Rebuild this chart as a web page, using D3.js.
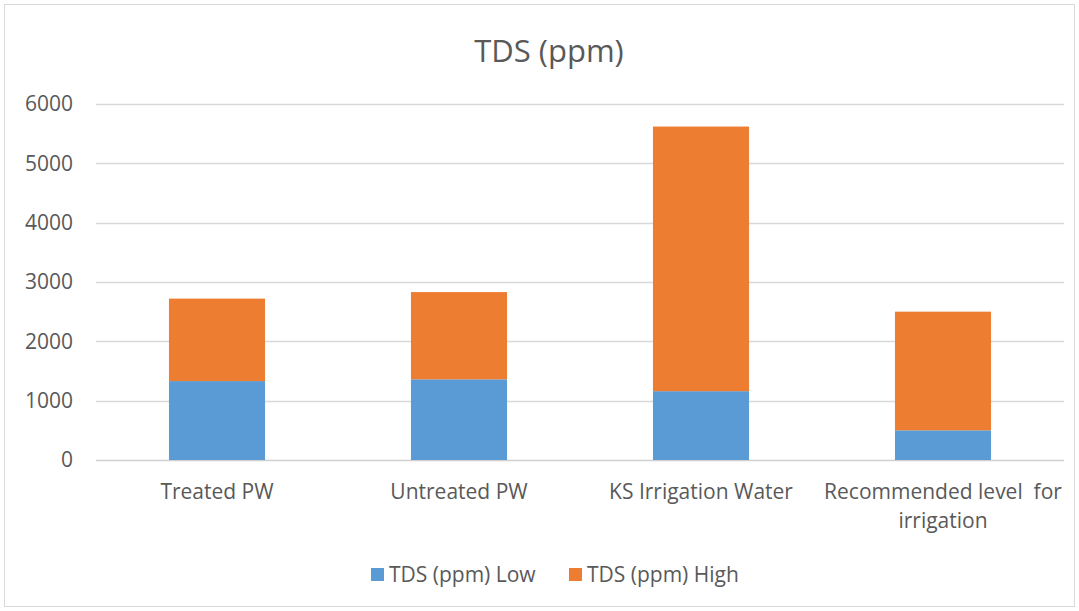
<!DOCTYPE html>
<html>
<head>
<meta charset="utf-8">
<script src="https://cdn.jsdelivr.net/npm/d3@7"></script>
<style>
  body { margin: 0; background: #fff; }
  text { font-family: "Open Sans", "Noto Sans", sans-serif; fill: #595959; }
</style>
</head>
<body>
<div id="chart"></div>
<script>
// data
var categories = ["Treated PW", "Untreated PW", "KS Irrigation Water", "Recommended level  for irrigation"];
var lowValues = [1330, 1360, 1160, 500];
var highValues = [1390, 1470, 4460, 2000];
var seriesNames = ["TDS (ppm) Low", "TDS (ppm) High"];
var yTicks = [0, 1000, 2000, 3000, 4000, 5000, 6000];

var W = 1079, H = 611;
var margin = {top: 104, right: 15, bottom: 151, left: 96};
var colors = ["#5b9bd5", "#ed7d31"];

var svg = d3.select("#chart").append("svg")
    .attr("width", W)
    .attr("height", H);

// outer frame
svg.append("rect")
    .attr("x", 4.5).attr("y", 4.5)
    .attr("width", W - 9).attr("height", H - 9)
    .attr("fill", "#fff")
    .attr("stroke", "#d9d9d9");

svg.append("text")
    .attr("x", 549).attr("y", 62)
    .attr("text-anchor", "middle")
    .style("font-size", "31px")
    .text("TDS (ppm)");

var x = d3.scaleBand()
    .domain(categories)
    .range([margin.left, W - margin.right])
    .paddingInner(0.603)
    .paddingOuter(0.3015);

var y = d3.scaleLinear()
    .domain([0, 6000])
    .range([H - margin.bottom, margin.top]);

// gridlines
svg.append("g")
    .selectAll("line")
    .data(yTicks)
  .enter().append("line")
    .attr("x1", margin.left)
    .attr("x2", W - margin.right)
    .attr("y1", function(d) { return Math.round(y(d)) + 0.5; })
    .attr("y2", function(d) { return Math.round(y(d)) + 0.5; })
    .attr("stroke", function(d) { return d === 0 ? "#d0d0d0" : "#d9d9d9"; })
    .attr("stroke-width", 1.5);

// y tick labels
svg.append("g")
    .selectAll("text")
    .data(yTicks)
  .enter().append("text")
    .attr("x", 73)
    .attr("y", function(d) { return y(d); })
    .attr("dy", "0.35em")
    .attr("text-anchor", "end")
    .style("font-size", "21px")
    .text(function(d) { return d; });

// stacked bars
var rows = categories.map(function(c, i) { return {cat: c, low: lowValues[i], high: highValues[i]}; });
var stack = d3.stack().keys(["low", "high"]);
var layers = stack(rows);

svg.append("g")
    .selectAll("g")
    .data(layers)
  .enter().append("g")
    .attr("fill", function(d, i) { return colors[i]; })
  .selectAll("rect")
    .data(function(d) { return d; })
  .enter().append("rect")
    .attr("x", function(d) { return x(d.data.cat); })
    .attr("width", x.bandwidth())
    .attr("y", function(d) { return y(d[1]); })
    .attr("height", function(d) { return y(d[0]) - y(d[1]); });

// category labels, wrapped like the original
var catLines = [["Treated PW"], ["Untreated PW"], ["KS Irrigation Water"], ["Recommended level  for", "irrigation"]];
var catG = svg.append("g");
categories.forEach(function(c, i) {
  var t = catG.append("text")
      .attr("x", x(c) + x.bandwidth() / 2)
      .attr("y", 499)
      .attr("text-anchor", "middle")
      .style("font-size", "21px")
      .style("white-space", "pre");
  catLines[i].forEach(function(line, j) {
    t.append("tspan")
        .attr("x", x(c) + x.bandwidth() / 2)
        .attr("dy", j === 0 ? 0 : 29)
        .text(line);
  });
});

// legend
var legendX = [371, 569];
var lg = svg.append("g");
seriesNames.forEach(function(name, i) {
  lg.append("rect")
      .attr("x", legendX[i]).attr("y", 568)
      .attr("width", 13).attr("height", 13)
      .attr("fill", colors[i]);
  lg.append("text")
      .attr("x", legendX[i] + 18).attr("y", 582)
      .style("font-size", "21px")
      .text(name);
});
</script>
</body>
</html>
